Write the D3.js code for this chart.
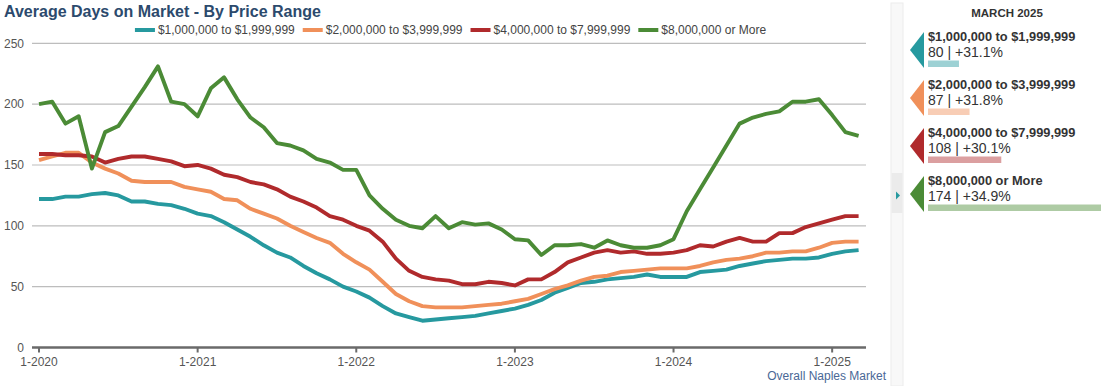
<!DOCTYPE html>
<meta charset="utf-8">
<script src="https://cdn.jsdelivr.net/npm/d3@7"></script>
<style>
    body { margin: 0; background: #fff; font-family: "Liberation Sans", Arial, sans-serif; }
    svg text { font-family: "Liberation Sans", Arial, sans-serif; }
</style>
<div id="chart"></div>
<script>
    // ----- data (monthly, Jan 2020 - Mar 2025) -----
    var seriesNames = ["$1,000,000 to $1,999,999", "$2,000,000 to $3,999,999", "$4,000,000 to $7,999,999", "$8,000,000 or More"];
    var seriesColors = ["#26999f", "#f0905a", "#b02a2c", "#4b8b36"];

    var range1to2 = [122,122,124,124,126,127,125,120,120,118, 117,114,110,108,103,97,91,84,78,74,
        67,61,56,50,46,41,34,28,25,22, 23,24,25,26,28,30,32,35,39,45,
        49,53,54,56,57,58,60,58,58,58, 62,63,64,67,69,71,72,73,73,74, 77,79,80];
    var range2to4 = [154,157,160,160,152,147,143,137,136,136, 136,132,130,128,122,121,114,110,106,100,
        95,90,86,77,70,64,54,44,38,34, 33,33,33,34,35,36,38,40,44,48,
        51,55,58,59,62,63,64,65,65,65, 67,70,72,73,75,78,78,79,79,82, 86,87,87];
    var range4to8 = [159,159,158,158,157,152,155,157,157,155, 153,149,150,147,142,140,136,134,130,124,
        120,115,108,105,100,96,87,73,63,58, 56,55,52,52,54,53,51,56,56,62,
        70,74,78,80,78,79,77,77,78,80, 84,83,87,90,87,87,94,94,99,102, 105,108,108];
    var range8plus = [200,202,184,190,147,177,182,198,214,231, 202,200,190,213,222,204,189,181,168,166,
        162,155,152,146,146,125,114,105,100,98, 108,98,103,101,102,97,89,88,76,84,
        84,85,82,88,84,82,82,84,89,112, 130,148,166,184,189,192,194,202,202,204, 191,177,174];

    var xTickLabels = ["1-2020", "1-2021", "1-2022", "1-2023", "1-2024", "1-2025"];
    var yTicks = [0, 50, 100, 150, 200, 250];
    var changeLabels = ["+31.1%", "+31.8%", "+30.1%", "+34.9%"];
    var panelMonth = "MARCH 2025";

    var allSeries = [range1to2, range2to4, range4to8, range8plus];

    // ----- svg -----
    var W = 1103, H = 386;
    var svg = d3.select("#chart").append("svg").attr("width", W).attr("height", H);

    var x = d3.scaleLinear().domain([-0.53, 62.56]).range([32, 866]);
    var y = d3.scaleLinear().domain([0, 250]).range([347.5, 43.3]);

    // title
    svg.append("text").attr("x", 4).attr("y", 17)
        .style("font-size", "16px").style("font-weight", "bold").style("fill", "#2c4a6d")
        .text("Average Days on Market - By Price Range");

    // legend, centred over plot
    var legend = svg.append("g");
    var lx = 0;
    seriesNames.forEach(function (name, i) {
        var g = legend.append("g").attr("transform", "translate(" + lx + ",0)");
        g.append("rect").attr("x", 0).attr("y", 28).attr("width", 20).attr("height", 4).style("fill", seriesColors[i]);
        var t = g.append("text").attr("x", 23).attr("y", 34).style("font-size", "12px").style("fill", "#444").text(name);
        lx += 23 + t.node().getComputedTextLength() + 8;
    });
    lx -= 8;
    legend.attr("transform", "translate(" + ((32 + 866) / 2 - lx / 2 + 1.5) + ",0)");

    // grid
    svg.append("g").selectAll("line").data(yTicks.filter(function (d) { return d > 0; })).enter().append("line")
        .attr("x1", 32).attr("x2", 866)
        .attr("y1", function (d) { return y(d); }).attr("y2", function (d) { return y(d); })
        .style("stroke", "#bdbdbd").style("stroke-width", 1.2);

    svg.append("g").selectAll("text").data(yTicks).enter().append("text")
        .attr("x", 24).attr("y", function (d) { return y(d); }).attr("dy", "0.35em")
        .attr("text-anchor", "end").style("font-size", "12px").style("fill", "#555")
        .text(function (d) { return d; });

    // x axis
    svg.append("line").attr("x1", 32).attr("x2", 866).attr("y1", y(0)).attr("y2", y(0))
        .style("stroke", "#6a6a6a").style("stroke-width", 2.5);
    var xt = svg.append("g").selectAll("g").data(xTickLabels).enter().append("g")
        .attr("transform", function (d, i) { return "translate(" + x(i * 12) + "," + y(0) + ")"; });
    xt.append("line").attr("y1", 0).attr("y2", 5).style("stroke", "#6a6a6a").style("stroke-width", 2);
    xt.append("text").attr("y", 18.5).attr("text-anchor", "middle")
        .style("font-size", "12px").style("fill", "#555").text(function (d) { return d; });

    svg.append("text").attr("x", 886).attr("y", 380).attr("text-anchor", "end")
        .style("font-size", "12px").style("fill", "#4a6896").text("Overall Naples Market");

    // lines
    var line = d3.line().x(function (d, i) { return x(i); }).y(function (d) { return y(d); });
    svg.append("g").selectAll("path").data(allSeries).enter().append("path")
        .attr("d", line)
        .style("fill", "none")
        .style("stroke", function (d, i) { return seriesColors[i]; })
        .style("stroke-width", 3.9)
        .style("stroke-linejoin", "round");

    // ----- right panel -----
    svg.append("rect").attr("x", 891).attr("y", 3).attr("width", 12).attr("height", H - 3)
        .style("fill", "#f8f8f8").style("stroke", "#ececec");
    svg.append("rect").attr("x", 891.5).attr("y", 173).attr("width", 11).attr("height", 40).style("fill", "#ebebeb");
    svg.append("path").attr("d", "M896,191.5L900,195.5L896,199.5Z").style("fill", "#26999f");

    svg.append("text").attr("x", 1007).attr("y", 17).attr("text-anchor", "middle")
        .style("font-size", "11.5px").style("font-weight", "bold").style("fill", "#333").text(panelMonth);

    var bar = d3.scaleLinear().domain([59.5, 174]).range([0, 173]);
    var items = svg.append("g").selectAll("g").data(allSeries).enter().append("g")
        .attr("transform", function (d, i) { return "translate(0," + (41 + 48 * i) + ")"; });
    items.each(function (d, i) {
        var g = d3.select(this);
        var last = d[d.length - 1];
        g.append("path").attr("d", "M924,-9L910,9L924,27Z").style("fill", seriesColors[i]);
        g.append("text").attr("x", 928).attr("y", 0)
            .style("font-size", "12.8px").style("font-weight", "bold").style("fill", "#333").text(seriesNames[i]);
        g.append("text").attr("x", 928).attr("y", 15.5)
            .style("font-size", "14px").style("fill", "#333").text(last + " | " + changeLabels[i]);
        g.append("rect").attr("x", 928).attr("y", 19.5).attr("width", bar(last)).attr("height", 6.5)
            .style("fill", seriesColors[i]).style("fill-opacity", 0.45);
    });
</script>
